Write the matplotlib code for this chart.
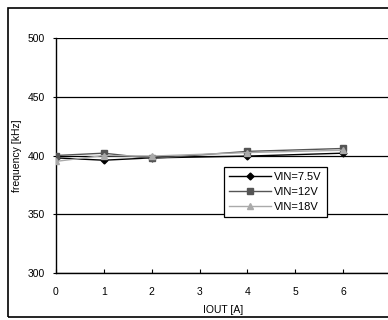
import matplotlib
matplotlib.use("Agg")
import matplotlib.pyplot as plt
from matplotlib.patches import Rectangle

# IOUT [A] and switching frequency [kHz] for each input voltage
iout = [0, 1, 2, 4, 6]
f_7v5 = [398, 396, 398, 399.5, 402]
f_12v = [400, 402, 397.5, 403.5, 406]
f_18v = [395, 400, 399.5, 402.5, 404.5]

plt.rcParams['font.family'] = ['Liberation Sans', 'DejaVu Sans']
plt.rcParams['font.size'] = 7.5

fig = plt.figure(figsize=(3.88, 3.2), dpi=100)
ax = fig.add_axes([0.144, 0.147, 0.864, 0.734])

# outer chart frame
fig.patches.append(Rectangle((0.021, 0.009), 1.2, 0.966, transform=fig.transFigure,
                             fill=False, edgecolor='black', linewidth=1.2))

ax.plot(iout, f_7v5, color='black', marker='D', markersize=3.5, linewidth=1.0, label='VIN=7.5V', zorder=3)
ax.plot(iout, f_12v, color='#555555', marker='s', markersize=4, linewidth=1.0, label='VIN=12V', zorder=3)
ax.plot(iout, f_18v, color='#aaaaaa', marker='^', markersize=4.5, linewidth=1.0, label='VIN=18V', zorder=3)

ax.set_xlim(0, 7)
ax.set_ylim(300, 500)
ax.set_xticks(range(0, 7))
ax.set_yticks([300, 350, 400, 450, 500])
ax.yaxis.grid(True, color='black', linewidth=0.9)
ax.set_axisbelow(True)

for side in ['top', 'right']:
    ax.spines[side].set_visible(False)
ax.spines['left'].set_linewidth(1.0)
ax.spines['bottom'].set_linewidth(1.0)
ax.tick_params(axis='x', direction='in', length=3, pad=10)
ax.tick_params(axis='y', direction='out', length=2, pad=6)

ax.set_xlabel('IOUT [A]', labelpad=6)
ax.set_ylabel('frequency [kHz]', labelpad=4)

leg = ax.legend(loc='upper left', bbox_to_anchor=(0.501, 0.451), frameon=True, fancybox=False,
                edgecolor='black', framealpha=1, handlelength=3.8, borderpad=0.45,
                borderaxespad=0, labelspacing=0.45, handletextpad=0.3, fontsize=8)
leg.get_frame().set_linewidth(0.9)
# a little extra room on the right of the legend box, as in the reference
leg._legend_box.sep = 0
leg.borderpad = 0.45

fig.savefig('out.png', dpi=100)
